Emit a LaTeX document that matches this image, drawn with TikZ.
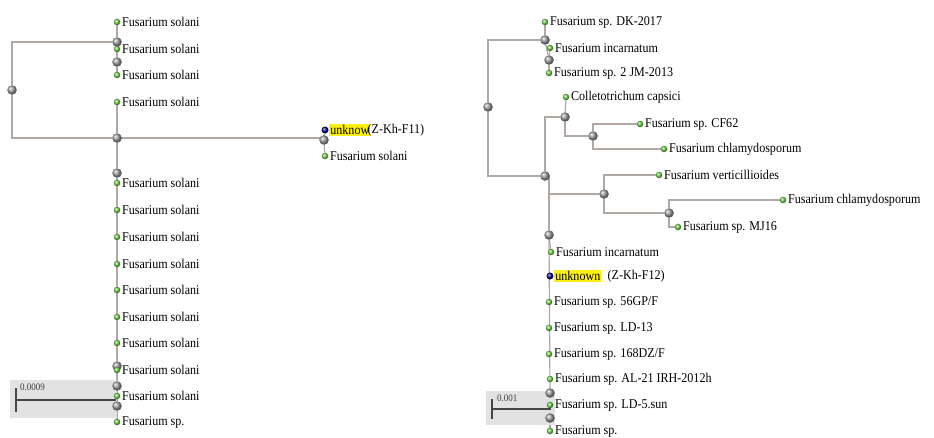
\documentclass[tikz,border=0pt]{standalone}
\usepackage{fontspec}
\setmainfont[FakeStretch=0.9]{Liberation Serif}
\pgfdeclarelayer{bg}
\pgfsetlayers{bg,main}
\definecolor{branch}{RGB}{178,168,163}
\definecolor{leafg}{RGB}{110,215,75}
\definecolor{hl}{RGB}{250,238,20}
\definecolor{scalebg}{RGB}{226,226,226}
\definecolor{bar}{RGB}{70,70,70}
\tikzset{
  br/.style={draw=branch, line width=1.2pt},
  innernd/.style={circle, inner sep=0pt, minimum size=9.5pt, shading=ball, ball color=gray!75},
  leafnd/.style={circle, inner sep=0pt, minimum size=6.5pt, shading=ball, ball color=leafg},
  unknd/.style={circle, inner sep=0pt, minimum size=7pt, shading=ball, ball color=blue!55!black},
  lab/.style={anchor=west, font=\fontsize{13.4}{15}\selectfont, inner sep=0pt, text=black},
  hlab/.style={anchor=west, font=\fontsize{13.4}{15}\selectfont, inner sep=1pt, fill=hl, text=black},
  sclab/.style={anchor=west, font=\fontsize{10}{11}\selectfont, inner sep=0pt, text=black!75},
  scbar/.style={draw=bar, line width=1.6pt},
}
\newcommand{\lf}[3]{\node[leafnd] (#1) at (#2) {}; \node[lab] (#1t) at ([xshift=1.5pt]#1.east) {#3};}
\begin{document}
\begin{tikzpicture}[x=1pt,y=-1pt]
\useasboundingbox (0,0) rectangle (934,437);
% ---------- scale bars ----------
\fill[scalebg] (10,380) rectangle (117,418);
\coordinate (sl1) at (16,400); \coordinate (sl2) at (116,400);
\draw[scbar] (sl1) -- (sl2);
\draw[scbar] ([yshift=-12pt]sl1) -- ([yshift=12pt]sl1);
\node[sclab] (slt) at (20,387) {0.0009};
\fill[scalebg] (486,391) rectangle (555,425);
\coordinate (sr1) at (492,409); \coordinate (sr2) at (551,409);
\draw[scbar] (sr1) -- (sr2);
\draw[scbar] ([yshift=-10pt]sr1) -- ([yshift=10pt]sr1);
\node[sclab] (srt) at (497,398) {0.001};
% ---------- left tree ----------
\node[innernd] (L0) at (12,90) {};
\node[innernd] (L1) at (117,42) {};
\node[innernd] (L1b) at (117,62) {};
\node[innernd] (L2) at (117,138) {};
\node[innernd] (L3) at (117,173) {};
\node[innernd] (L4) at (117,366) {};
\node[innernd] (L5) at (117,386) {};
\node[innernd] (L6) at (117,406) {};
\node[innernd] (U) at (324,140) {};
\lf{a1}{117,22}{Fusarium solani}
\lf{a2}{117,49}{Fusarium solani}
\lf{a3}{117,75}{Fusarium solani}
\lf{a4}{117,102}{Fusarium solani}
\lf{c1}{117,183}{Fusarium solani}
\lf{c2}{117,210}{Fusarium solani}
\lf{c3}{117,237}{Fusarium solani}
\lf{c4}{117,264}{Fusarium solani}
\lf{c5}{117,290}{Fusarium solani}
\lf{c6}{117,317}{Fusarium solani}
\lf{c7}{117,343}{Fusarium solani}
\lf{c8}{117,370}{Fusarium solani}
\lf{c9}{117,396}{Fusarium solani}
\lf{c10}{117,422}{Fusarium sp.}
\node[unknd] (uL) at (325,130) {};
\node[hlab] (uLh) at ([xshift=0.5pt]uL.east) {unknow};
\node[lab] (uLt) at ([xshift=-3pt]uLh.east) {(Z-Kh-F11)};
\lf{uLs}{325,156}{Fusarium solani}
\begin{pgfonlayer}{bg}
\draw[br] (L0) |- (L1);
\draw[br] (L0) |- (L2);
\draw[br] (L1) -- (a1);
\draw[br] (L1) -- (L1b);
\draw[br] (L1b) -- (a2);
\draw[br] (L1b) -- (a3);
\draw[br] (L2) -- (a4);
\draw[br] (L2.center) -| (U);
\draw[br] (U) -- (uL);
\draw[br] (U) -- (uLs);
\draw[br] (L2) -- (L3);
\draw[br] (L3) -- (c1);
\draw[br] (L3) -- (L4);
\draw[br] (L4) -- (c8);
\draw[br] (L4) -- (L5);
\draw[br] (L5) -- (c9);
\draw[br] (L5) -- (L6);
\draw[br] (L6) -- (c10);
\end{pgfonlayer}
% ---------- right tree ----------
\node[innernd] (R0) at (488,107) {};
\node[innernd] (R1) at (545,40) {};
\node[innernd] (R1b) at (549,60) {};
\node[innernd] (R2) at (545,176) {};
\node[innernd] (R3) at (565,117) {};
\node[innernd] (R4) at (593,136) {};
\node[innernd] (R5) at (549,235) {};
\node[innernd] (R6) at (604,194) {};
\node[innernd] (R7) at (669,213) {};
\node[innernd] (R8) at (550,393) {};
\node[innernd] (R9) at (550,418) {};
\lf{b1}{545,22}{Fusarium sp. DK-2017}
\lf{b2}{550,48}{Fusarium incarnatum}
\lf{b3}{549,73}{Fusarium sp. 2 JM-2013}
\lf{d1}{566,97}{Colletotrichum capsici}
\lf{d2}{640,124}{Fusarium sp. CF62}
\lf{d3}{664,149}{Fusarium chlamydosporum}
\lf{e1}{659,175}{Fusarium verticillioides}
\lf{e2}{783,200}{Fusarium chlamydosporum}
\lf{e3}{678,227}{Fusarium sp. MJ16}
\lf{f1}{551,252}{Fusarium incarnatum}
\node[unknd] (uR) at (550,276) {};
\node[hlab] (uRh) at ([xshift=0.5pt]uR.east) {unknown};
\node[lab] (uRt) at ([xshift=6pt]uRh.east) {(Z-Kh-F12)};
\lf{f2}{549,302}{Fusarium sp. 56GP/F}
\lf{f3}{549,328}{Fusarium sp. LD-13}
\lf{f4}{549,354}{Fusarium sp. 168DZ/F}
\lf{f5}{550,379}{Fusarium sp. AL-21 IRH-2012h}
\lf{f6}{550,405}{Fusarium sp. LD-5.sun}
\lf{f7}{550,431}{Fusarium sp.}
\begin{pgfonlayer}{bg}
\draw[br] (R0) |- (R1);
\draw[br] (R0) |- (R2);
\draw[br] (R1) -- (b1);
\draw[br] (R1) -- (R1b);
\draw[br] (R1b) -- (b2);
\draw[br] (R1b) -- (b3);
\draw[br] (R2) |- (R3);
\draw[br] (R3) -- (d1);
\draw[br] (R3) |- (R4);
\draw[br] (R4) |- (d2);
\draw[br] (R4) |- (d3);
\draw[br] (R2.center) -| (R5);
\draw[br] (R5) |- (R6);
\draw[br] (R6) |- (e1);
\draw[br] (R6) |- (R7);
\draw[br] (R7) |- (e2);
\draw[br] (R7) |- (e3);
\draw[br] (R5) -- (f1);
\draw[br] (R5) -- (R8);
\draw[br] (R8) -- (f6);
\draw[br] (R8) -- (R9);
\draw[br] (R9) -- (f7);
\end{pgfonlayer}
\end{tikzpicture}
\end{document}
